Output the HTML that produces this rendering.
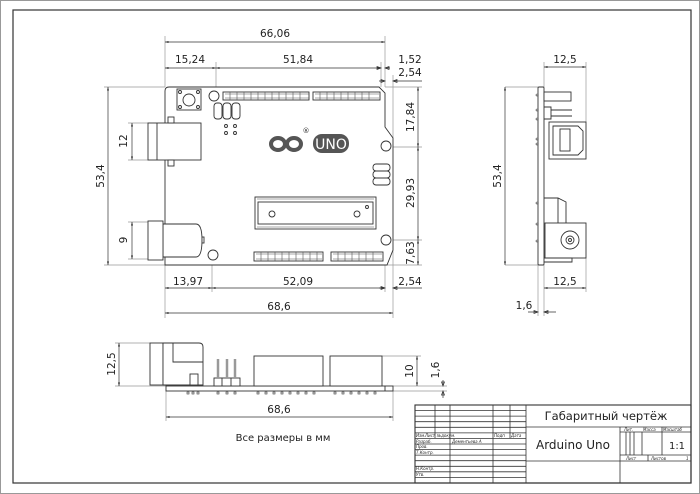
<!DOCTYPE html>
<html><head><meta charset="utf-8"><style>
html,body{margin:0;padding:0;background:#fff}
svg{display:block}
text{font-family:"DejaVu Sans","Liberation Sans",sans-serif;fill:#222}
</style></head><body>
<svg width="700" height="494" viewBox="0 0 700 494" xmlns="http://www.w3.org/2000/svg">
<defs>
<marker id="a" viewBox="0 0 10 6" refX="10" refY="3" markerWidth="5" markerHeight="3" orient="auto-start-reverse"><path d="M0,0L10,3L0,6z" fill="#333"/></marker>
</defs>
<rect x="0.5" y="0.5" width="699" height="493" fill="none" stroke="#999"/>
<rect x="13" y="10" width="678" height="473" fill="none" stroke="#333" stroke-width="1.2"/>

<g stroke="#999" stroke-width="0.7" fill="none">
<path d="M165,36V87 M385,36V87 M216,62V96 M381,62V87 M393,75V138 M385,75V87"/>
<path d="M104,87H165 M104,265H165 M128,123H150 M128,160H150 M128,222H150 M128,259H150"/>
<path d="M385,87H422 M386,147H422 M386,240H422 M387,265H422"/>
<path d="M165,265V318 M393,250V318 M385,265V292 M212,255V292"/>
<path d="M544,62V87 M586,62V122 M538,87H505 M538,265H505 M586,258V292 M544,265V316 M538,265V316"/>
<path d="M115,343H150 M115,386H166 M382,356H421 M393,386H447 M393,391H447 M166,391V421 M393,391V421"/>
</g>
<g stroke="#333" stroke-width="0.7" fill="none" marker-start="url(#a)" marker-end="url(#a)">
<path d="M165,42H385"/><path d="M165,68H216"/><path d="M216,68H381"/>
<path d="M108,87V265"/><path d="M132,123V160"/><path d="M132,222V259"/>
<path d="M418,87V147"/><path d="M418,147V240"/><path d="M418,240V265"/>
<path d="M165,288H212"/><path d="M212,288H385"/><path d="M165,313H393"/>
<path d="M544,67H586"/><path d="M505,87V265"/><path d="M544,288H586"/>
<path d="M119,343V386"/><path d="M417,356V386"/><path d="M166,417H393"/>
</g>
<g stroke="#333" stroke-width="0.7" fill="none">
<path d="M377,68H381 M385,68H390M381,68l-4,-1.5v3z M385,68l4,-1.5v3z"/>
<path d="M393,81H422 M385,81H379 M385,81l-4,-1.5v3z M393,81l4,-1.5v3z"/>
<path d="M393,288H422 M385,288H379 M385,288l-4,-1.5v3z M393,288l4,-1.5v3z"/>
<path d="M544,312H556 M538,312H528 M538,312l-4,-1.5v3z M544,312l4,-1.5v3z"/>
<path d="M443,380V386 M443,391V398 M443,386l-1.5,-4h3z M443,391l-1.5,4h3z"/>
<path d="M213,255L220,247H262"/>
</g>
<g font-size="10.5" text-anchor="middle">
<text x="275" y="37">66,06</text>
<text x="190" y="63">15,24</text>
<text x="298" y="63">51,84</text>
<text x="410" y="63">1,52</text>
<text x="410" y="76">2,54</text>
<text x="188" y="285">13,97</text>
<text x="298" y="285">52,09</text>
<text x="410" y="285">2,54</text>
<text x="279" y="310">68,6</text>
<text x="565" y="63">12,5</text>
<text x="565" y="285">12,5</text>
<text x="524" y="309">1,6</text>
<text x="279" y="413">68,6</text>
<text x="243" y="244" text-anchor="middle">4 x Ø3,2</text>
<text transform="translate(104,176) rotate(-90)">53,4</text>
<text transform="translate(127,141) rotate(-90)">12</text>
<text transform="translate(127,240) rotate(-90)">9</text>
<text transform="translate(414,117) rotate(-90)">17,84</text>
<text transform="translate(414,193) rotate(-90)">29,93</text>
<text transform="translate(414,253) rotate(-90)">7,63</text>
<text transform="translate(501,176) rotate(-90)">53,4</text>
<text transform="translate(115,364) rotate(-90)">12,5</text>
<text transform="translate(413,371) rotate(-90)">10</text>
<text transform="translate(439,370) rotate(-90)">1,6</text>
</g>
<text x="283" y="441" font-size="10" text-anchor="middle">Все размеры в мм</text>

<g stroke="#333" stroke-width="0.9" fill="#fff">
<path d="M169,87H379L385,93V127L393,138V250L387,265H165V91Q165,87 169,87Z"/>
<rect x="148" y="123" width="53" height="37"/><path d="M157,123V160" fill="none"/>
<rect x="168" y="117" width="6" height="6"/><rect x="168" y="160" width="6" height="6"/>
<path d="M163,224H196Q202,224 202,240Q202,257 196,257H163Z"/>
<rect x="148" y="221" width="15" height="39"/>
<rect x="202" y="237" width="2" height="6"/>
<rect x="177" y="89" width="24" height="21"/>
<circle cx="189" cy="100" r="6"/>
<circle cx="180" cy="92" r="1.5"/><circle cx="198" cy="92" r="1.5"/><circle cx="180" cy="107" r="1.5"/><circle cx="198" cy="107" r="1.5"/>
<circle cx="214" cy="96" r="5"/><circle cx="386" cy="146" r="5"/><circle cx="386" cy="240" r="5"/><circle cx="213" cy="255" r="5"/>
<rect x="223" y="92" width="86" height="8"/><rect x="313" y="92" width="67" height="8"/>
<rect x="254" y="252" width="69" height="9"/><rect x="331" y="252" width="52" height="9"/>
<rect x="214" y="103" width="8" height="16" rx="3"/><rect x="223" y="103" width="8" height="16" rx="3"/><rect x="232" y="103" width="8" height="16" rx="3"/>
<circle cx="226" cy="126" r="1.5"/><circle cx="235" cy="126" r="1.5"/><circle cx="226" cy="133" r="1.5"/><circle cx="235" cy="133" r="1.5"/>
<rect x="373" y="164" width="17" height="7" rx="3"/><rect x="373" y="171" width="17" height="7" rx="3"/><rect x="373" y="178" width="17" height="7" rx="3"/>
<rect x="255" y="197" width="121" height="32"/>
<rect x="258" y="202" width="115" height="22"/>
<circle cx="272" cy="214" r="3"/><circle cx="357" cy="214" r="3"/><circle cx="367" cy="207" r="1.5"/>
</g>
<g fill="none" stroke="#555" stroke-width="0.6">
<path d="M225,94h84 M225,98h84 M315,94h64 M315,98h64 M256,254h66 M256,259h66 M333,254h49 M333,259h49 M257,199h117 M257,227h117"/>
<path d="M230,92v8 M237,92v8 M244,92v8 M251,92v8 M258,92v8 M265,92v8 M272,92v8 M279,92v8 M286,92v8 M293,92v8 M300,92v8 M320,92v8 M327,92v8 M334,92v8 M341,92v8 M348,92v8 M355,92v8 M362,92v8 M369,92v8 M261,252v9 M268,252v9 M275,252v9 M282,252v9 M289,252v9 M296,252v9 M303,252v9 M310,252v9 M317,252v9 M338,252v9 M345,252v9 M352,252v9 M359,252v9 M366,252v9 M373,252v9"/>
</g>
<g stroke="#555" stroke-width="4" fill="none"><ellipse cx="278" cy="144" rx="7" ry="6"/><ellipse cx="294" cy="144" rx="7" ry="6"/></g>
<path d="M275,144h6 M291,144h6 M294,141v6" stroke="#fff" stroke-width="1.5"/>
<text x="306" y="133" font-size="7" fill="#555" text-anchor="middle">®</text>
<rect x="313" y="134" width="36" height="19" rx="9" fill="#555"/>
<text x="331" y="149" font-size="14" text-anchor="middle" style="fill:#fff">UNO</text>

<g stroke="#333" stroke-width="0.9" fill="#fff">
<rect x="538" y="87" width="6" height="178" rx="1"/>
<rect x="544" y="92" width="27" height="9"/>
<path d="M544,107H551V119H544 M551,110H572 M551,116H572" fill="none"/>
<rect x="549" y="122" width="37" height="37"/>
<path d="M553,126H578L583,131V150L578,155H553Z"/>
<rect x="560" y="129" width="10" height="22"/>
<path d="M544,198H558L566,202V223" fill="none"/><path d="M558,198V223" fill="none"/>
<rect x="545" y="223" width="41" height="35"/>
<circle cx="570" cy="240" r="9"/><circle cx="570" cy="240" r="4"/><circle cx="570" cy="240" r="1.5"/>
<path d="M544,258H572V262H544" fill="none"/>
</g>
<g fill="#fff" stroke="#333" stroke-width="0.6">
<circle cx="537" cy="95" r="1"/><circle cx="537" cy="110" r="1"/><circle cx="537" cy="119" r="1"/><circle cx="537" cy="139" r="1"/><circle cx="537" cy="144" r="1"/><circle cx="537" cy="203" r="1"/><circle cx="537" cy="224" r="1"/><circle cx="537" cy="241" r="1"/>
</g>

<g stroke="#333" stroke-width="0.9" fill="#fff">
<rect x="166" y="386" width="227" height="5"/><path d="M385,386v5" fill="none"/>
<rect x="150" y="343" width="13" height="42"/>
<path d="M163,343H199Q203,343 203,347V385H163Z"/>
<path d="M173,343V362H203" fill="none"/>
<rect x="190" y="374" width="8" height="11"/>
<rect x="254" y="356" width="69" height="30"/><rect x="330" y="356" width="52" height="30"/>
<rect x="214" y="378" width="26" height="8"/><path d="M222,378v8 M231,378v8" fill="none"/>
</g>
<g stroke="#999" stroke-width="2.5"><path d="M218,359V378 M227,359V378 M235,359V378"/></g>
<g fill="#fff" stroke="#333" stroke-width="0.6">
<rect x="187" y="392" width="2" height="2"/><rect x="192" y="392" width="2" height="2"/><rect x="197" y="392" width="2" height="2"/>
<rect x="217" y="392" width="2" height="2"/><rect x="226" y="392" width="2" height="2"/><rect x="234" y="392" width="2" height="2"/>
<rect x="257" y="392" width="2" height="2"/><rect x="265" y="392" width="2" height="2"/><rect x="273" y="392" width="2" height="2"/><rect x="281" y="392" width="2" height="2"/><rect x="289" y="392" width="2" height="2"/><rect x="297" y="392" width="2" height="2"/><rect x="305" y="392" width="2" height="2"/><rect x="313" y="392" width="2" height="2"/>
<rect x="334" y="392" width="2" height="2"/><rect x="342" y="392" width="2" height="2"/><rect x="350" y="392" width="2" height="2"/><rect x="358" y="392" width="2" height="2"/><rect x="366" y="392" width="2" height="2"/><rect x="374" y="392" width="2" height="2"/>
</g>

<g stroke="#333" stroke-width="0.8" fill="none">
<rect x="415" y="405" width="276" height="78" stroke-width="1.1"/>
<path d="M435,405V438 M450,405V483 M493,405V483 M510,405V438 M526,405V483"/>
<path d="M415,410.6H526 M415,416.1H526 M415,421.7H526 M415,427.3H526 M415,432.9H526 M415,438.4H526 M415,444H526 M415,449.6H526 M415,455.1H526 M415,460.7H526 M415,466.3H526 M415,471.8H526 M415,477.4H526"/>
<path d="M526,427H691 M526,461H691 M620,427V483 M620,432H691 M620,455H691 M662,427V455 M626,432V455 M630,432V455 M634,432V455 M642,432V455 M648,455V461"/>
</g>
<g font-size="4" font-style="italic">
<text x="416" y="437">Изм.</text><text x="425" y="437">Лист</text><text x="437" y="437">№докум.</text><text x="494" y="437">Подп</text><text x="511" y="437">Дата</text>
<text x="416" y="443">Разраб.</text><text x="452" y="443">Дементьева А</text>
<text x="416" y="448">Пров.</text><text x="416" y="454">Т.Контр.</text>
<text x="416" y="470">Н.Контр.</text><text x="416" y="476">Утв.</text>
<text x="624" y="431">Лит.</text><text x="643" y="431">Масса</text><text x="663" y="431">Масштаб</text>
<text x="626" y="460">Лист</text><text x="651" y="460">Листов</text><text x="686" y="460">1</text>
</g>
<text x="606" y="420" font-size="11.5" text-anchor="middle">Габаритный чертёж</text>
<text x="573" y="449" font-size="12" text-anchor="middle">Arduino Uno</text>
<text x="677" y="449" font-size="10" text-anchor="middle">1:1</text>
</svg>
</body></html>
